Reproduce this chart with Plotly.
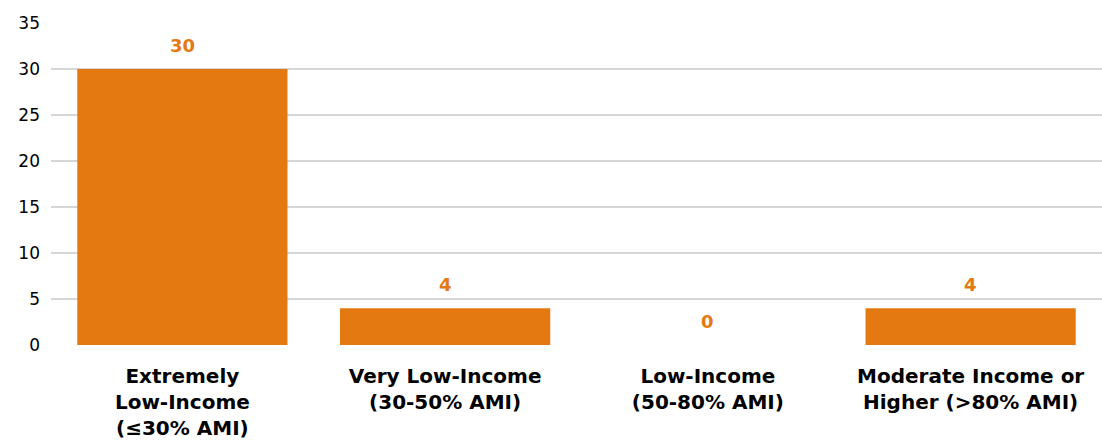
import plotly.graph_objects as go

categories = [
    "Extremely<br>Low-Income<br>(≤30% AMI)",
    "Very Low-Income<br>(30-50% AMI)",
    "Low-Income<br>(50-80% AMI)",
    "Moderate Income or<br>Higher (>80% AMI)",
]
values = [30, 4, 0, 4]
y_ticks = [0, 5, 10, 15, 20, 25, 30, 35]

orange = "#E47911"
font_family = "'DejaVu Sans', sans-serif"

fig = go.Figure(
    go.Bar(
        x=categories,
        y=values,
        marker=dict(color=orange, line=dict(width=0)),
        hoverinfo="x+y",
    )
)

# value labels floating above each bar
for cat, v in zip(categories, values):
    fig.add_annotation(
        x=cat,
        y=v,
        text=f"<b>{v}</b>",
        showarrow=False,
        yanchor="middle",
        yshift=24,
        font=dict(color=orange, size=18, family=font_family),
    )

fig.update_layout(
    width=1102,
    height=447,
    margin=dict(l=51, r=0, t=23, b=102),
    plot_bgcolor="white",
    paper_bgcolor="white",
    bargap=0.2,
    showlegend=False,
    font=dict(family=font_family, color="#000000"),
)
fig.update_yaxes(
    range=[0, 35],
    tickvals=y_ticks,
    showgrid=True,
    gridcolor="#d6d6d6",
    gridwidth=2,
    zeroline=False,
    ticks="",
    tickfont=dict(size=17, color="#000000"),
    ticklabelstandoff=10,
)
fig.update_xaxes(
    tickvals=categories,
    ticktext=[f"<b>{c}</b>" for c in categories],
    tickfont=dict(size=20, color="#000000", family=font_family),
    ticks="",
    showline=False,
    ticklabelstandoff=17,
)

fig.write_html("out.html")
